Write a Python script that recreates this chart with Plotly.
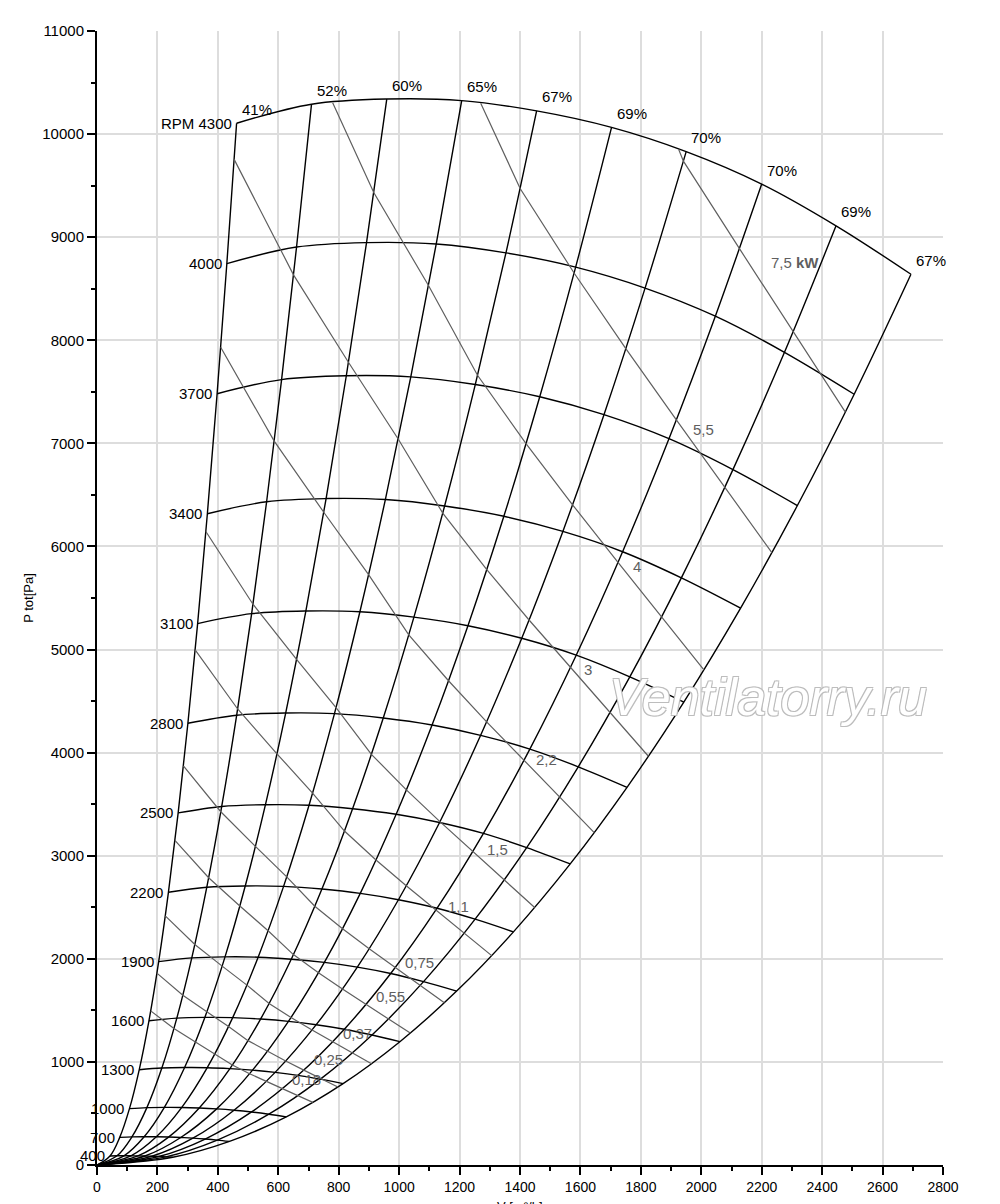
import numpy as np
import plotly.graph_objects as go

# top fan curve (RPM 4300), read where each efficiency line meets it
rpm_top = 4300
flow_top = [462, 710, 959, 1207, 1455, 1703, 1950, 2200, 2446, 2694]          # m3/h
press_top = [10105, 10290, 10340, 10325, 10225, 10065, 9830, 9515, 9110, 8640]  # Pa
efficiency = [41, 52, 60, 65, 67, 69, 70, 70, 69, 67]                          # %

rpm_list = [4300, 4000, 3700, 3400, 3100, 2800, 2500, 2200, 1900, 1600, 1300, 1000, 700, 400]

power_kw = [0.18, 0.25, 0.37, 0.55, 0.75, 1.1, 1.5, 2.2, 3, 4, 5.5, 7.5]
power_text = ["0,18", "0,25", "0,37", "0,55", "0,75", "1,1", "1,5", "2,2", "3", "4", "5,5",
              "7,5 <b>kW</b>"]
# flow where the bigger power lines leave the top curve
power_top_start = {4: 780, 5.5: 1270, 7.5: 1925}

# label spots for the power lines (flow, pressure)
power_label_pos = [(695, 825), (765, 1019), (861, 1280), (970, 1630), (1069, 1969),
                   (1195, 2512), (1324, 3065), (1489, 3929), (1625, 4811), (1787, 5801),
                   (2006, 7130), (2310, 8750)]

BLACK = "black"
GREY = "#5f5f5f"
FONT = "Liberation Sans"

fig = go.Figure()

# fan curves for each speed (affinity laws: V ~ n, P ~ n^2)
for n in rpm_list:
    k = n / rpm_top
    fig.add_trace(go.Scatter(
        x=[v * k for v in flow_top], y=[p * k * k for p in press_top],
        mode="lines", line=dict(color=BLACK, width=1.4, shape="spline"),
        hoverinfo="skip"))
    label = "RPM 4300" if n == rpm_top else str(n)
    fig.add_annotation(x=flow_top[0] * k, y=press_top[0] * k * k, text=label,
                       showarrow=False, xanchor="right", yanchor="middle", xshift=-3,
                       font=dict(family=FONT, size=15, color=BLACK))

# efficiency lines, from the top curve down to the origin
scales = [n / rpm_top for n in rpm_list] + [0]
for v, p, eta in zip(flow_top, press_top, efficiency):
    fig.add_trace(go.Scatter(
        x=[v * k for k in scales], y=[p * k * k for k in scales],
        mode="lines", line=dict(color=BLACK, width=1.4, shape="spline"),
        hoverinfo="skip"))
    fig.add_annotation(x=v, y=p, text=f"{eta}%", showarrow=False, xshift=20, yshift=14,
                       font=dict(family=FONT, size=15, color=BLACK))

# constant power lines
for w, txt, (lx, ly) in zip(power_kw, power_text, power_label_pos):
    xs, ys = [], []
    for v, p, eta in zip(flow_top, press_top, efficiency):
        k = (w * 1000 * 3600 * eta / 100 / (v * p)) ** (1 / 3)
        if k <= 1:
            xs.append(v * k)
            ys.append(p * k * k)
    if w in power_top_start:
        v0 = power_top_start[w]
        xs.insert(0, v0)
        ys.insert(0, float(np.interp(v0, flow_top, press_top)))
    fig.add_trace(go.Scatter(x=xs, y=ys, mode="lines",
                             line=dict(color=GREY, width=1.2), hoverinfo="skip"))
    fig.add_annotation(x=lx, y=ly, text=txt, showarrow=False,
                       font=dict(family=FONT, size=15, color=GREY))

# watermark
fig.add_annotation(x=2222, y=4540, text="Ventilatorry.ru", showarrow=False,
                   font=dict(family=FONT, size=52, style="italic", color="white",
                             shadow="-1px -1px 0 #bdbdbd, 1px -1px 0 #bdbdbd, "
                                    "-1px 1px 0 #bdbdbd, 1px 1px 0 #bdbdbd"))

# x title sits low, right at the bottom edge of the page
fig.add_annotation(xref="paper", yref="paper", x=0.5, y=0, yanchor="top", yshift=-32,
                   text="V [m³/h]", showarrow=False,
                   font=dict(family=FONT, size=13, color=BLACK))

axis_style = dict(
    showline=True, linecolor=BLACK, linewidth=2, mirror=False,
    ticks="outside", ticklen=8, tickwidth=2, tickcolor=BLACK,
    showgrid=True, gridcolor="#dddddd", gridwidth=2, zeroline=False,
    automargin=False, tickformat="d",
)

fig.update_xaxes(axis_style, range=[0, 2800], tick0=0, dtick=200,
                 tickfont=dict(family=FONT, size=14, color=BLACK),
                 minor=dict(dtick=100, ticks="outside", ticklen=4, tickwidth=1.5,
                            tickcolor=BLACK, showgrid=False))
fig.update_yaxes(axis_style, range=[0, 11000], tick0=0, dtick=1000,
                 tickfont=dict(family=FONT, size=15, color=BLACK),
                 minor=dict(dtick=500, ticks="outside", ticklen=4, tickwidth=1.5,
                            tickcolor=BLACK, showgrid=False),
                 title=dict(text="P tot[Pa]", standoff=6,
                            font=dict(family=FONT, size=13, color=BLACK)))

# the page adds an 8px body margin, so the figure is shifted by 8px
fig.update_layout(
    width=984, height=1196,
    margin=dict(l=89, r=49, t=23, b=39),
    plot_bgcolor="white", paper_bgcolor="white",
    showlegend=False,
)

fig.write_html("out.html")
